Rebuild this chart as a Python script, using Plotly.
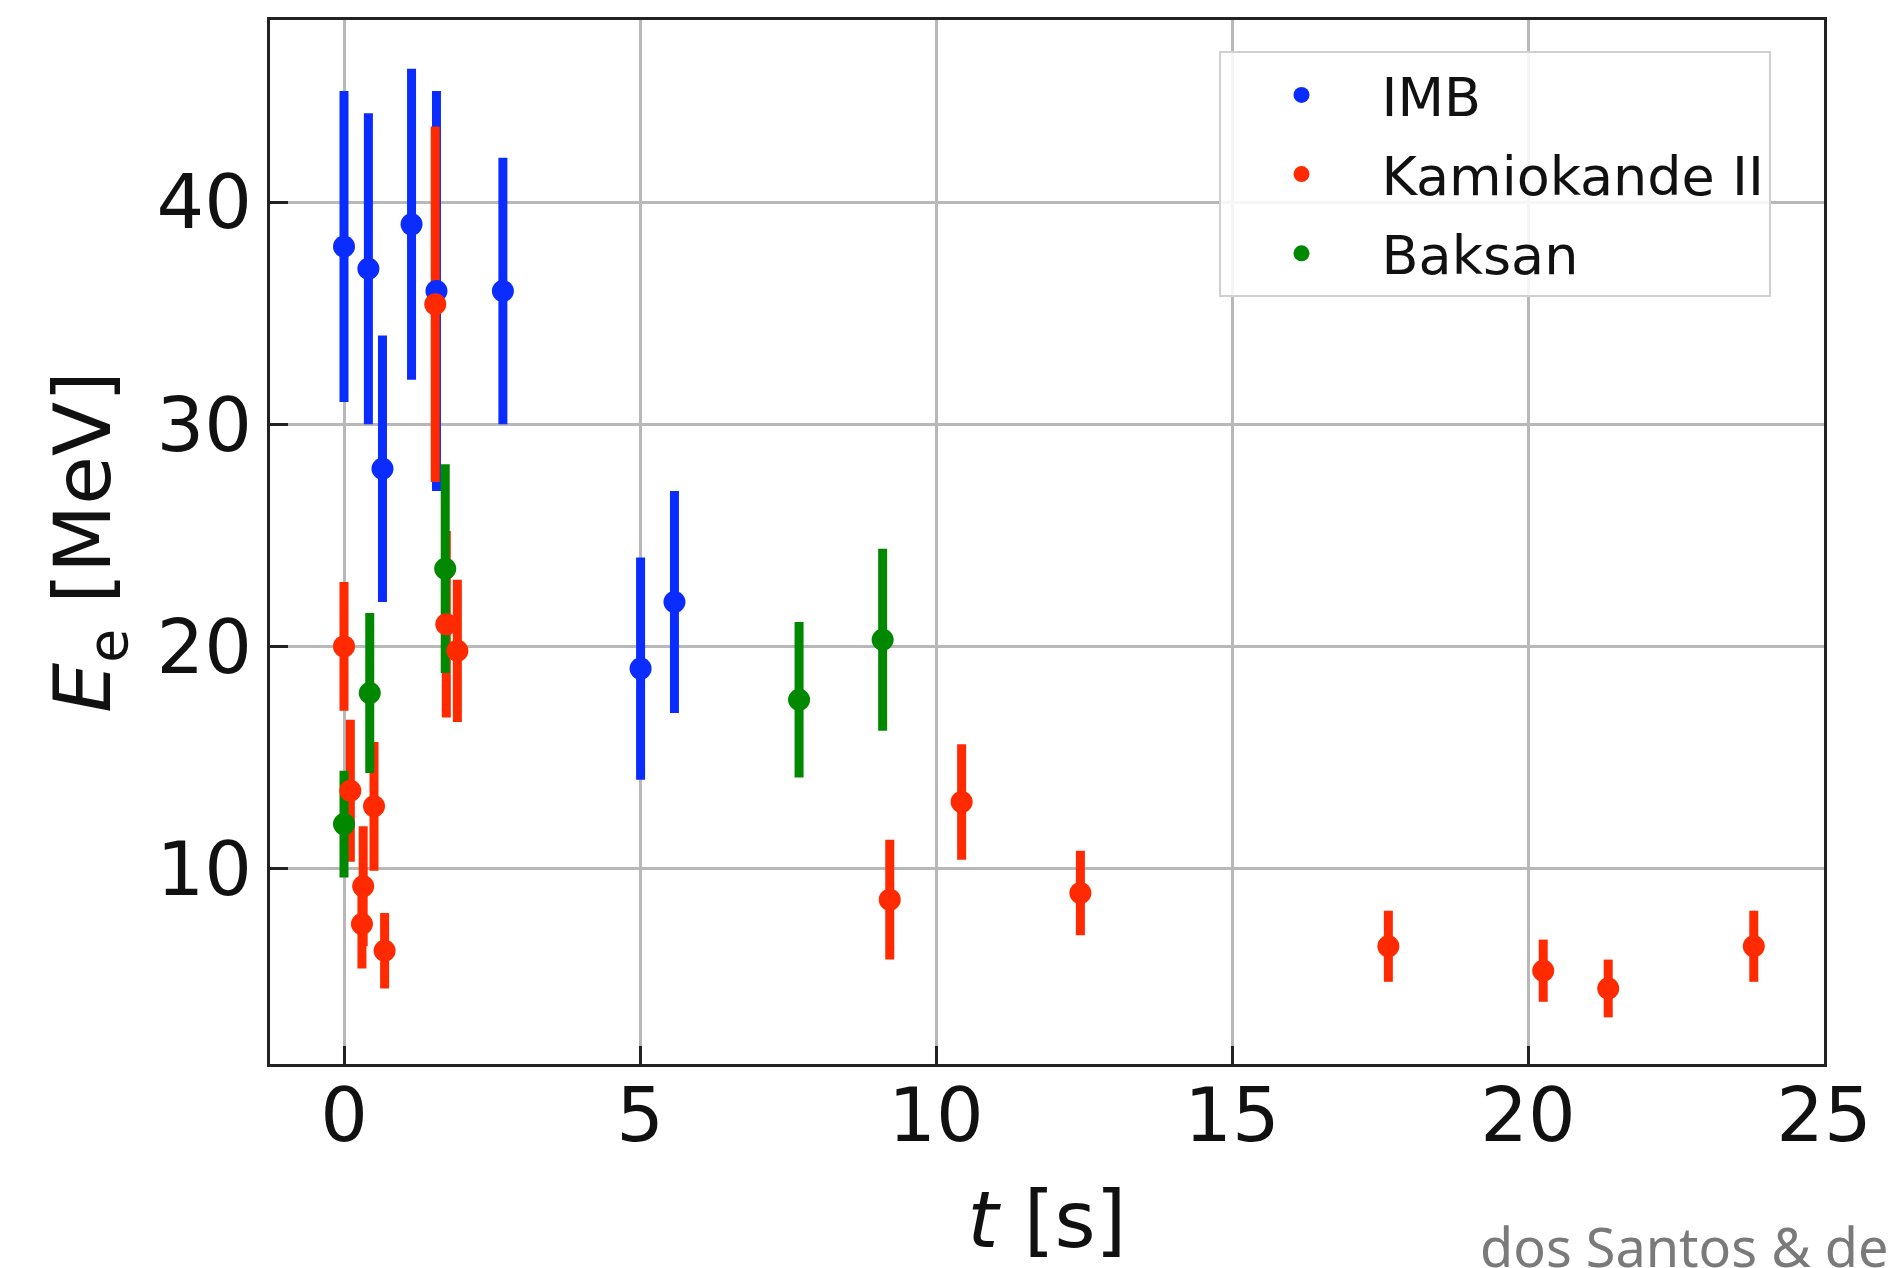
import plotly.graph_objects as go

# ---- data (SN1987A neutrino events) ----
imb_t = [0.0, 0.412, 0.650, 1.141, 1.562, 2.684, 5.010, 5.582]
imb_e = [38, 37, 28, 39, 36, 36, 19, 22]
imb_err = [7, 7, 6, 7, 9, 6, 5, 5]

kam_t = [0.0, 0.107, 0.303, 0.324, 0.507, 0.686, 1.541, 1.728, 1.915,
         9.219, 10.433, 12.439, 17.641, 20.257, 21.355, 23.814]
kam_e = [20.0, 13.5, 7.5, 9.2, 12.8, 6.3, 35.4, 21.0, 19.8,
         8.6, 13.0, 8.9, 6.5, 5.4, 4.6, 6.5]
kam_err = [2.9, 3.2, 2.0, 2.7, 2.9, 1.7, 8.0, 4.2, 3.2,
           2.7, 2.6, 1.9, 1.6, 1.4, 1.3, 1.6]

bak_t = [0.0, 0.435, 1.710, 7.687, 9.099]
bak_e = [12.0, 17.9, 23.5, 17.6, 20.3]
bak_err = [2.4, 3.6, 4.7, 3.5, 4.1]

names = ["IMB", "Kamiokande II", "Baksan"]
colors = ["#0a2cff", "#ff2a00", "#008800"]
series = [(imb_t, imb_e, imb_err), (kam_t, kam_e, kam_err), (bak_t, bak_e, bak_err)]

x_ticks = [0, 5, 10, 15, 20, 25]
y_ticks = [10, 20, 30, 40]

FONT = "DejaVu Sans"
fig = go.Figure()

# error bars first (below all markers)
for (t, e, err), c in zip(series, colors):
    fig.add_trace(go.Scatter(
        x=t, y=e, mode="markers",
        marker=dict(size=0.1, opacity=0, color=c),
        error_y=dict(type="data", array=err, visible=True,
                     color=c, thickness=9, width=0),
        showlegend=False, hoverinfo="skip"))

# markers on top
for i, ((t, e, err), c, n) in enumerate(zip(series, colors, names)):
    fig.add_trace(go.Scatter(
        x=t, y=e, mode="markers", name=n, legendgroup=f"g{i}",
        marker=dict(size=22, color=c, line=dict(width=0))))

axis_common = dict(
    showline=True, linecolor="#222222", linewidth=3, mirror=True,
    ticks="inside", ticklen=18, tickwidth=3, tickcolor="#222222",
    showgrid=True, gridcolor="#b8b8b8", gridwidth=2.5,
    zeroline=False, automargin=False,
    tickfont=dict(family=FONT, size=75, color="#111111"),
)

fig.update_xaxes(range=[-1.25, 25], tickvals=x_ticks,
                 ticklabelstandoff=-16,
                 title=dict(text="<i>t</i> [s]", font=dict(family=FONT, size=79, color="#111111"),
                            standoff=34),
                 **axis_common)
fig.update_yaxes(range=[1.2, 48.2], tickvals=y_ticks,
                 ticklabelstandoff=0,
                 title=dict(text="<i>E</i><sub>e</sub> [MeV]", font=dict(family=FONT, size=79, color="#111111"),
                            standoff=20),
                 **axis_common)

fig.update_layout(
    width=1891, height=1268,
    margin=dict(l=270, r=67, t=20, b=204),
    paper_bgcolor="white", plot_bgcolor="white",
    showlegend=True,
    legend=dict(x=0.611, y=0.970, xanchor="left", yanchor="top",
                bgcolor="rgba(255,255,255,0.85)", bordercolor="#d0d0d0", borderwidth=2,
                font=dict(family=FONT, size=54, color="#111111"),
                itemwidth=150, tracegroupgap=6, itemsizing="trace"),
)

fig.add_annotation(text="dos Santos &amp; de Holanda", xref="paper", yref="paper",
                   x=(1478 - 270) / 1554, y=-(1246 - 1064) / 1044,
                   xanchor="left", yanchor="middle", showarrow=False,
                   font=dict(family="Noto Sans", size=54, color="#7a7a7a"))

fig.write_html("out.html", config={"displayModeBar": False},
               post_script="document.body.style.margin='0px';")
